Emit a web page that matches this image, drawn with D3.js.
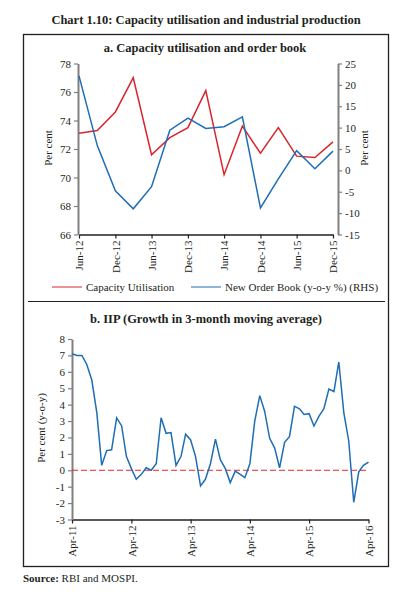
<!DOCTYPE html>
<html>
<head>
<meta charset="utf-8">
<script src="https://cdn.jsdelivr.net/npm/d3@7"></script>
<style>
  body { margin: 0; background: #fff; }
  text { font-family: "Liberation Serif", "DejaVu Serif", serif; fill: #231f20; }
</style>
</head>
<body>
<div id="chart"></div>
<script>
// Panel a: quarterly data
const quarters = ["Jun-12","Sep-12","Dec-12","Mar-13","Jun-13","Sep-13","Dec-13","Mar-14",
  "Jun-14","Sep-14","Dec-14","Mar-15","Jun-15","Sep-15","Dec-15"];
const capacityUtil = [73.1, 73.3, 74.6, 77.0, 71.6, 72.8, 73.5, 76.1, 70.2, 73.6, 71.7, 73.5, 71.5, 71.4, 72.5];
const newOrderBook = [22.1, 5.8, -4.8, -9.0, -3.8, 9.4, 12.2, 9.8, 10.2, 12.5, -8.8, -2.0, 4.6, 0.4, 4.5];
const topTicks = ["Jun-12","Dec-12","Jun-13","Dec-13","Jun-14","Dec-14","Jun-15","Dec-15"];
const leftTicks = [66, 68, 70, 72, 74, 76, 78];
const rightTicks = [-15, -10, -5, 0, 5, 10, 15, 20, 25];

// Panel b: monthly IIP growth, Apr-11 to Apr-16
const iipStart = "Apr-11";
const iipGrowth = [7.1, 7.0, 7.0, 6.45, 5.5, 3.5, 0.3, 1.2, 1.25, 3.2, 2.7, 0.85,
  0.1, -0.55, -0.25, 0.15, 0.0, 0.4, 3.2, 2.25, 2.3, 0.3, 0.85, 2.2,
  1.85, 0.85, -0.95, -0.55, 0.4, 1.9, 0.65, 0.1, -0.75, -0.05, -0.25, -0.45,
  0.4, 3.0, 4.55, 3.6, 1.95, 1.35, 0.15, 1.7, 2.05, 3.9, 3.75, 3.4,
  3.45, 2.7, 3.3, 3.75, 4.95, 4.8, 6.6, 3.5, 1.8, -1.95, -0.1, 0.3, 0.5];
const bottomTicks = ["Apr-11","Apr-12","Apr-13","Apr-14","Apr-15","Apr-16"];
const iipTicks = [-3, -2, -1, 0, 1, 2, 3, 4, 5, 6, 7, 8];

const parse = d3.timeParse("%b-%y");
const red = "#d9262e";
const blue = "#1f6db5";
const axisGrey = "#808080";
const plainNum = d => String(d);

const svg = d3.select("#chart").append("svg")
  .attr("width", 412).attr("height", 597);

//Titles and frame
svg.append("text").attr("x", 206).attr("y", 24).attr("text-anchor", "middle")
  .style("font-size", "12.5px").style("font-weight", "bold")
  .text("Chart 1.10: Capacity utilisation and industrial production");
svg.append("rect").attr("x", 23.5).attr("y", 34.5).attr("width", 365).attr("height", 532)
  .attr("fill", "none").attr("stroke", "#231f20").attr("stroke-width", 1.3);
svg.append("line").attr("x1", 28).attr("x2", 385).attr("y1", 301.5).attr("y2", 301.5)
  .attr("stroke", "#231f20").attr("stroke-width", 1.2);
svg.append("text").attr("x", 205).attr("y", 52).attr("text-anchor", "middle")
  .style("font-size", "12.5px").style("font-weight", "bold")
  .text("a. Capacity utilisation and order book");
svg.append("text").attr("x", 206).attr("y", 323).attr("text-anchor", "middle")
  .style("font-size", "12.5px").style("font-weight", "bold")
  .text("b. IIP (Growth in 3-month moving average)");
const src = svg.append("text").attr("x", 23).attr("y", 582).style("font-size", "11px");
src.append("tspan").style("font-weight", "bold").text("Source:");
src.append("tspan").text(" RBI and MOSPI.");

function styleAxis(g, color, width) {
  g.select(".domain").attr("stroke", color).attr("stroke-width", width);
  g.selectAll(".tick line").attr("stroke", color).attr("stroke-width", 1.2);
  g.selectAll(".tick text").style("font-size", "11px").style("font-family", "Liberation Serif, serif")
    .attr("fill", "#3a3a3a");
}

function rotateLabels(g) {
  g.selectAll(".tick text")
    .attr("transform", "rotate(-90)")
    .attr("x", -6).attr("y", 0).attr("dy", "0.35em")
    .style("text-anchor", "end");
}

//Panel a
const xA = d3.scaleTime().domain([parse("Jun-12"), parse("Dec-15")]).range([79, 333]);
const yL = d3.scaleLinear().domain([66, 78]).range([234.5, 63.5]);
const yR = d3.scaleLinear().domain([-15, 25]).range([234.5, 63.5]);

svg.append("g").attr("transform", "translate(0,234.5)")
  .call(d3.axisBottom(xA).tickValues(topTicks.map(parse)).tickFormat(d3.timeFormat("%b-%y"))
    .tickSize(4).tickSizeOuter(0))
  .call(g => styleAxis(g, "#231f20", 1.3))
  .call(rotateLabels);
svg.append("g").attr("transform", "translate(78,0)")
  .call(d3.axisLeft(yL).tickValues(leftTicks).tickFormat(plainNum).tickSize(4).tickSizeOuter(0))
  .call(g => styleAxis(g, axisGrey, 2));
svg.append("g").attr("transform", "translate(338,0)")
  .call(d3.axisRight(yR).tickValues(rightTicks).tickFormat(plainNum).tickSize(4).tickSizeOuter(0))
  .call(g => styleAxis(g, axisGrey, 2));

const lineCU = d3.line().x((d, i) => xA(parse(quarters[i]))).y(d => yL(d));
const lineNO = d3.line().x((d, i) => xA(parse(quarters[i]))).y(d => yR(d));
svg.append("path").datum(capacityUtil).attr("d", lineCU)
  .attr("fill", "none").attr("stroke", red).attr("stroke-width", 1.5);
svg.append("path").datum(newOrderBook).attr("d", lineNO)
  .attr("fill", "none").attr("stroke", blue).attr("stroke-width", 1.5);

svg.append("text").attr("transform", "translate(52,148) rotate(-90)").attr("text-anchor", "middle")
  .style("font-size", "11px").text("Per cent");
svg.append("text").attr("transform", "translate(368,148) rotate(-90)").attr("text-anchor", "middle")
  .style("font-size", "11px").text("Per cent");

//Legend
const legend = [
  { label: "Capacity Utilisation", color: red, x: 52 },
  { label: "New Order Book (y-o-y %) (RHS)", color: blue, x: 191 }
];
legend.forEach(l => {
  svg.append("line").attr("x1", l.x).attr("x2", l.x + 30).attr("y1", 287).attr("y2", 287)
    .attr("stroke", l.color).attr("stroke-width", 1);
  svg.append("text").attr("x", l.x + 34).attr("y", 290.5).style("font-size", "11px").text(l.label);
});

//Panel b
const x0 = parse(iipStart);
const xB = d3.scaleTime().domain([x0, parse("Apr-16")]).range([72, 368.5]);
const yB = d3.scaleLinear().domain([-3, 8]).range([519.5, 339]);

svg.append("g").attr("transform", "translate(0,519.5)")
  .call(d3.axisBottom(xB).tickValues(bottomTicks.map(parse)).tickFormat(d3.timeFormat("%b-%y"))
    .tickSize(4).tickSizeOuter(0))
  .call(g => styleAxis(g, "#231f20", 1.3))
  .call(rotateLabels);
svg.append("g").attr("transform", "translate(72,0)")
  .call(d3.axisLeft(yB).tickValues(iipTicks).tickFormat(plainNum).tickSize(4).tickSizeOuter(0))
  .call(g => styleAxis(g, axisGrey, 2));

svg.append("line").attr("x1", 72).attr("x2", 368.5).attr("y1", yB(0)).attr("y2", yB(0))
  .attr("stroke", "#e8262b").attr("stroke-width", 1).attr("stroke-dasharray", "6,3");

const lineIIP = d3.line().x((d, i) => xB(d3.timeMonth.offset(x0, i))).y(d => yB(d));
svg.append("path").datum(iipGrowth).attr("d", lineIIP)
  .attr("fill", "none").attr("stroke", blue).attr("stroke-width", 1.5);

svg.append("text").attr("transform", "translate(45,428) rotate(-90)").attr("text-anchor", "middle")
  .style("font-size", "11px").text("Per cent (y-o-y)");
</script>
</body>
</html>
